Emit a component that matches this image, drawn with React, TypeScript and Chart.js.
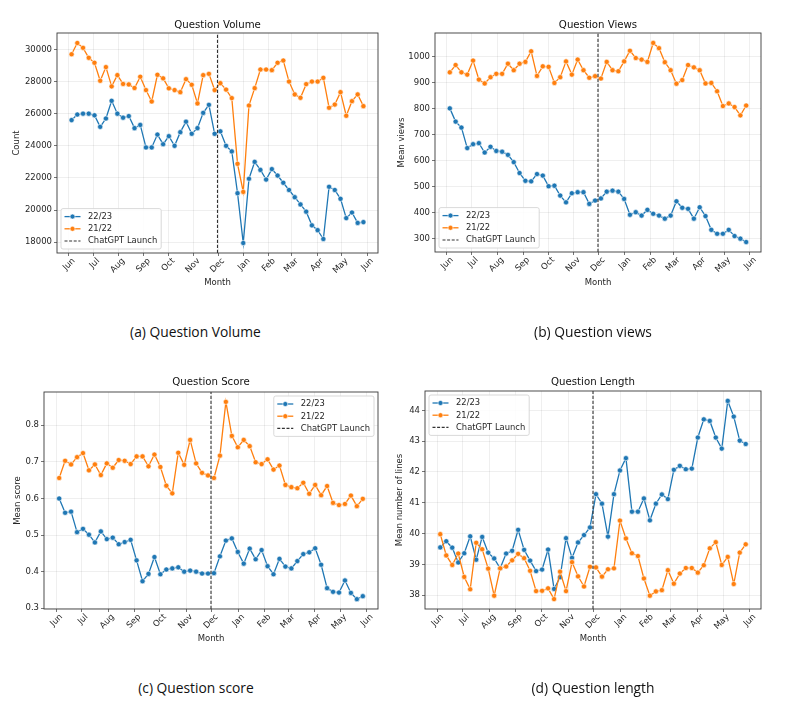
import React, { useEffect, useRef } from "react";
import { Chart, registerables } from "chart.js";

Chart.register(...registerables);

// ---------- shared axis data ----------
const MONTH_TICK_DAYS = [0, 30, 61, 92, 122, 153, 183, 214, 245, 273, 304, 334, 365];
const MONTH_LABELS = ["Jun", "Jul", "Aug", "Sep", "Oct", "Nov", "Dec", "Jan", "Feb", "Mar", "Apr", "May", "Jun"];
const FIRST_WEEK_DAY = 3.5;
const DAYS_PER_WEEK = 7;
const LAUNCH_DAY = 182;
const SERIES_LABELS = ["22/23", "21/22"];
const LAUNCH_LABEL = "ChatGPT Launch";

// ---------- series values (weekly) ----------
const volume2223 = [25600, 25950, 26000, 26000, 25900, 25180, 25700, 26800, 26000, 25750, 25850, 25100, 25300, 23900, 23900, 24700, 24100, 24600, 24000, 24850, 25500, 24750, 25100, 26050, 26550, 24750, 24900, 24000, 23650, 21050, 17950, 21950, 23000, 22500, 21900, 22550, 22150, 21700, 21250, 20800, 20350, 19900, 19050, 18750, 18200, 21450, 21250, 20700, 19500, 19850, 19200, 19250];
const volume2122 = [29700, 30400, 30100, 29480, 29170, 28050, 28900, 27700, 28400, 27850, 27820, 27600, 28300, 27470, 26760, 28420, 28200, 27580, 27470, 27340, 28150, 27800, 26640, 28400, 28480, 27470, 27900, 27500, 26970, 22880, 21130, 26510, 27590, 28750, 28750, 28710, 29170, 29310, 28000, 27200, 26990, 27840, 28000, 28000, 28230, 26370, 26570, 27340, 25870, 26780, 27200, 26470];

const views2223 = [802, 751, 728, 649, 664, 668, 632, 654, 638, 635, 623, 595, 553, 523, 521, 549, 543, 502, 504, 466, 440, 475, 479, 479, 434, 447, 455, 481, 485, 481, 453, 392, 402, 389, 411, 396, 389, 377, 389, 444, 419, 415, 377, 421, 387, 334, 319, 319, 334, 310, 300, 287];
const views2122 = [941, 969, 941, 932, 986, 913, 898, 922, 935, 935, 974, 949, 974, 981, 1022, 927, 964, 962, 900, 922, 983, 932, 990, 949, 920, 926, 917, 981, 949, 945, 983, 1024, 996, 990, 981, 1054, 1034, 980, 949, 897, 911, 969, 960, 949, 898, 900, 868, 811, 821, 807, 775, 813];

const score2223 = [0.600, 0.561, 0.564, 0.508, 0.517, 0.501, 0.480, 0.510, 0.489, 0.493, 0.475, 0.481, 0.487, 0.431, 0.374, 0.394, 0.440, 0.393, 0.406, 0.409, 0.412, 0.400, 0.403, 0.400, 0.395, 0.395, 0.396, 0.442, 0.485, 0.491, 0.454, 0.422, 0.463, 0.434, 0.459, 0.415, 0.393, 0.435, 0.414, 0.409, 0.429, 0.448, 0.453, 0.464, 0.419, 0.355, 0.345, 0.343, 0.376, 0.342, 0.325, 0.333];
const score2122 = [0.656, 0.703, 0.693, 0.713, 0.724, 0.677, 0.693, 0.664, 0.696, 0.684, 0.705, 0.703, 0.694, 0.715, 0.715, 0.688, 0.720, 0.686, 0.635, 0.614, 0.725, 0.692, 0.760, 0.696, 0.670, 0.663, 0.656, 0.717, 0.864, 0.771, 0.740, 0.760, 0.743, 0.699, 0.694, 0.707, 0.679, 0.690, 0.637, 0.631, 0.628, 0.643, 0.613, 0.637, 0.609, 0.634, 0.588, 0.582, 0.585, 0.608, 0.579, 0.599];

const length2223 = [39.55, 39.75, 39.54, 39.06, 39.36, 39.91, 39.15, 39.89, 39.38, 39.19, 38.87, 39.35, 39.44, 40.12, 39.47, 39.12, 38.78, 38.83, 39.48, 38.20, 38.58, 39.85, 39.21, 39.71, 39.95, 40.20, 41.28, 40.97, 39.90, 41.28, 42.05, 42.45, 40.71, 40.71, 41.14, 40.43, 40.97, 41.27, 41.12, 42.07, 42.20, 42.09, 42.11, 43.12, 43.71, 43.66, 43.12, 42.76, 44.31, 43.80, 43.02, 42.91];
const length2122 = [39.98, 39.29, 38.98, 39.35, 38.59, 38.19, 39.70, 39.49, 38.86, 37.98, 38.87, 38.93, 39.13, 39.34, 39.20, 38.79, 38.13, 38.14, 38.22, 37.87, 38.76, 38.13, 39.07, 38.61, 38.28, 38.92, 38.90, 38.60, 38.84, 38.87, 40.42, 39.84, 39.36, 39.27, 38.54, 37.98, 38.12, 38.16, 38.81, 38.37, 38.70, 38.88, 38.88, 38.73, 38.97, 39.52, 39.72, 38.98, 39.24, 38.36, 39.38, 39.65];

// ---------- y tick values ----------
const VOLUME_TICKS = [18000, 20000, 22000, 24000, 26000, 28000, 30000];
const VIEWS_TICKS = [300, 400, 500, 600, 700, 800, 900, 1000];
const SCORE_TICKS = [0.3, 0.4, 0.5, 0.6, 0.7, 0.8];
const LENGTH_TICKS = [38, 39, 40, 41, 42, 43, 44];

// ---------- styles ----------
const BLUE = "#1f77b4";
const ORANGE = "#ff7f0e";
const FONT = "DejaVu Sans";
const TEXT = "#262626";
const GRID = "rgba(0,0,0,0.09)";
const FRAME = "#3a3a3a";
const TICK_FONT = { family: FONT, size: 8.5 };

type Panel = {
  x: number; y: number; w: number; h: number;
  area: { l: number; r: number; t: number; b: number };
  yTitleX: number; xTitleY: number; titleGap: number;
  title: string; yLabel: string;
  s2223: number[]; s2122: number[];
  yTicks: number[]; fmt: (v: number) => string;
  legend: "lower left" | "upper right" | "upper left";
  caption: string; capX: number; capY: number;
};

const PANELS: Panel[] = [
  {
    x: 0, y: 0, w: 400, h: 300, area: { l: 57, r: 378, t: 33, b: 253 },
    yTitleX: 17, xTitleY: 282.7, titleGap: 8,
    title: "Question Volume", yLabel: "Count",
    s2223: volume2223, s2122: volume2122, yTicks: VOLUME_TICKS, fmt: (v) => String(v),
    legend: "lower left", caption: "(a) Question Volume", capX: 195.4, capY: 331.5,
  },
  {
    x: 390, y: 0, w: 410, h: 300, area: { l: 435, r: 761, t: 33, b: 252 },
    yTitleX: 401.7, xTitleY: 282.7, titleGap: 8,
    title: "Question Views", yLabel: "Mean views",
    s2223: views2223, s2122: views2122, yTicks: VIEWS_TICKS, fmt: (v) => String(v),
    legend: "lower left", caption: "(b) Question views", capX: 593, capY: 331.5,
  },
  {
    x: 0, y: 360, w: 400, h: 300, area: { l: 44, r: 378, t: 392, b: 609 },
    yTitleX: 17.3, xTitleY: 639, titleGap: 9.5,
    title: "Question Score", yLabel: "Mean score",
    s2223: score2223, s2122: score2122, yTicks: SCORE_TICKS, fmt: (v) => v.toFixed(1),
    legend: "upper right", caption: "(c) Question score", capX: 196, capY: 687.5,
  },
  {
    x: 390, y: 360, w: 410, h: 300, area: { l: 425, r: 761, t: 391, b: 609 },
    yTitleX: 400, xTitleY: 639, titleGap: 8.7,
    title: "Question Length", yLabel: "Mean number of lines",
    s2223: length2223, s2122: length2122, yTicks: LENGTH_TICKS, fmt: (v) => String(v),
    legend: "upper left", caption: "(d) Question length", capX: 593, capY: 688,
  },
];

const weekDay = (i: number) => FIRST_WEEK_DAY + DAYS_PER_WEEK * i;

function autoRange(values: number[]) {
  const lo = Math.min(...values);
  const hi = Math.max(...values);
  const m = (hi - lo) * 0.05;
  return [lo - m, hi + m];
}

const decorPlugin = {
  id: "decor",
  afterDraw(chart: any, _args: any, opts: any) {
    const { ctx, chartArea } = chart;
    const { left, right, top, bottom } = chartArea;
    ctx.save();
    // frame
    ctx.strokeStyle = FRAME;
    ctx.lineWidth = 0.9;
    ctx.setLineDash([]);
    ctx.strokeRect(left, top, right - left, bottom - top);
    // title
    ctx.fillStyle = "#111";
    ctx.font = `10.2px "${FONT}"`;
    ctx.textAlign = "center";
    ctx.textBaseline = "middle";
    ctx.fillText(opts.title, (left + right) / 2, top - opts.titleGap);
    // legend
    ctx.font = `8.4px "${FONT}"`;
    const entries = [
      { label: SERIES_LABELS[0], color: BLUE, dash: false },
      { label: SERIES_LABELS[1], color: ORANGE, dash: false },
      { label: LAUNCH_LABEL, color: "#333", dash: true },
    ];
    const textW = Math.max(...entries.map((e) => ctx.measureText(e.label).width));
    const padX = 3.5, handle = 16, gap = 7.5, rowH = 12.2;
    const boxW = padX + handle + gap + textW + 4;
    const boxH = rowH * 2 + 16;
    const inset = 4;
    let bx = left + inset;
    let by = bottom - inset - boxH;
    if (opts.legend === "upper right") { bx = right - inset - boxW; by = top + inset; }
    if (opts.legend === "upper left") { bx = left + inset; by = top + inset; }
    ctx.beginPath();
    if ((ctx as any).roundRect) (ctx as any).roundRect(bx, by, boxW, boxH, 2);
    else ctx.rect(bx, by, boxW, boxH);
    ctx.fillStyle = "rgba(255,255,255,0.85)";
    ctx.fill();
    ctx.strokeStyle = "#cfcfcf";
    ctx.lineWidth = 0.8;
    ctx.stroke();
    entries.forEach((e, i) => {
      const ry = by + 8 + i * rowH;
      const x0 = bx + padX;
      ctx.beginPath();
      ctx.strokeStyle = e.color;
      ctx.lineWidth = e.dash ? 1.1 : 1.3;
      ctx.setLineDash(e.dash ? [3, 1.6] : []);
      ctx.moveTo(x0, ry);
      ctx.lineTo(x0 + handle, ry);
      ctx.stroke();
      ctx.setLineDash([]);
      if (!e.dash) {
        ctx.beginPath();
        ctx.arc(x0 + handle / 2, ry, 2.5, 0, Math.PI * 2);
        ctx.fillStyle = e.color;
        ctx.fill();
        ctx.strokeStyle = "#fff";
        ctx.lineWidth = 0.6;
        ctx.stroke();
      }
      ctx.fillStyle = TEXT;
      ctx.textAlign = "left";
      ctx.textBaseline = "middle";
      ctx.fillText(e.label, x0 + handle + gap, ry + 0.3);
    });
    ctx.restore();
  },
};

function buildConfig(p: Panel): any {
  const [yMin, yMax] = autoRange([...p.s2223, ...p.s2122]);
  const xMin = FIRST_WEEK_DAY - 0.05 * (DAYS_PER_WEEK * (p.s2223.length - 1));
  const xMax = weekDay(p.s2223.length - 1) + 0.05 * (DAYS_PER_WEEK * (p.s2223.length - 1));
  const yw = p.area.l - p.x;
  const xh = p.y + p.h - p.area.b;
  const series = (vals: number[], label: string, color: string) => ({
    type: "line",
    label,
    data: vals.map((v, i) => ({ x: weekDay(i), y: v })),
    borderColor: color,
    backgroundColor: color,
    borderWidth: 1.3,
    pointRadius: 2.6,
    pointBackgroundColor: color,
    pointBorderColor: "#ffffff",
    pointBorderWidth: 0.6,
    tension: 0,
  });
  return {
    type: "line",
    data: {
      datasets: [
        {
          type: "line",
          label: LAUNCH_LABEL,
          data: [{ x: LAUNCH_DAY, y: yMin }, { x: LAUNCH_DAY, y: yMax }],
          borderColor: "#333",
          borderWidth: 1.1,
          borderDash: [3.2, 1.8],
          pointRadius: 0,
        },
        series(p.s2122, SERIES_LABELS[1], ORANGE),
        series(p.s2223, SERIES_LABELS[0], BLUE),
      ],
    },
    options: {
      animation: false,
      responsive: false,
      devicePixelRatio: 1,
      layout: { padding: { left: 0, right: p.x + p.w - p.area.r, top: p.area.t - p.y, bottom: 0 } },
      plugins: {
        legend: { display: false },
        tooltip: { enabled: false },
        title: { display: false },
        decor: { title: p.title, titleGap: p.titleGap, legend: p.legend },
      },
      scales: {
        x: {
          type: "linear",
          min: xMin,
          max: xMax,
          afterBuildTicks: (s: any) => { s.ticks = MONTH_TICK_DAYS.map((v) => ({ value: v })); },
          afterFit: (s: any) => { s.height = xh; },
          ticks: {
            autoSkip: false,
            minRotation: 45,
            maxRotation: 45,
            labelOffset: 5,
            padding: 0,
            font: TICK_FONT,
            color: TEXT,
            callback: (_v: any, i: number) => MONTH_LABELS[i],
          },
          grid: { color: GRID, lineWidth: 0.7, drawTicks: true, tickLength: 3, tickColor: FRAME },
          border: { display: false },
          title: {
            display: true, text: "Month", font: TICK_FONT, color: TEXT,
            padding: { top: 0, bottom: p.y + p.h - p.xTitleY - 5.1 },
          },
        },
        y: {
          type: "linear",
          min: yMin,
          max: yMax,
          afterBuildTicks: (s: any) => { s.ticks = p.yTicks.map((v) => ({ value: v })); },
          afterFit: (s: any) => { s.width = yw; },
          ticks: { font: TICK_FONT, color: TEXT, padding: 2, callback: (v: any) => p.fmt(Number(v)) },
          grid: { color: GRID, lineWidth: 0.7, drawTicks: true, tickLength: 3, tickColor: FRAME },
          border: { display: false },
          title: {
            display: true, text: p.yLabel, font: TICK_FONT, color: TEXT,
            padding: { top: p.yTitleX - p.x - 5.1, bottom: 0 },
          },
        },
      },
    },
    plugins: [decorPlugin],
  };
}

function PanelChart({ p }: { p: Panel }) {
  const ref = useRef<HTMLCanvasElement>(null);
  useEffect(() => {
    if (!ref.current) return;
    const chart = new Chart(ref.current, buildConfig(p));
    return () => chart.destroy();
  }, [p]);
  return (
    <canvas
      ref={ref}
      width={p.w}
      height={p.h}
      style={{ position: "absolute", left: p.x, top: p.y, width: p.w, height: p.h }}
    />
  );
}

export default function App() {
  return (
    <div style={{ position: "absolute", left: 0, top: 0, width: 800, height: 712, background: "#fff", overflow: "hidden" }}>
      {PANELS.map((p, i) => (
        <PanelChart key={i} p={p} />
      ))}
      {PANELS.map((p, i) => (
        <div
          key={"c" + i}
          style={{
            position: "absolute",
            left: p.capX - 150,
            top: p.capY - 10,
            width: 300,
            height: 20,
            lineHeight: "20px",
            textAlign: "center",
            fontFamily: "'Open Sans', sans-serif",
            fontSize: 13.8,
            color: "#111",
            whiteSpace: "nowrap",
          }}
        >
          {p.caption}
        </div>
      ))}
    </div>
  );
}
